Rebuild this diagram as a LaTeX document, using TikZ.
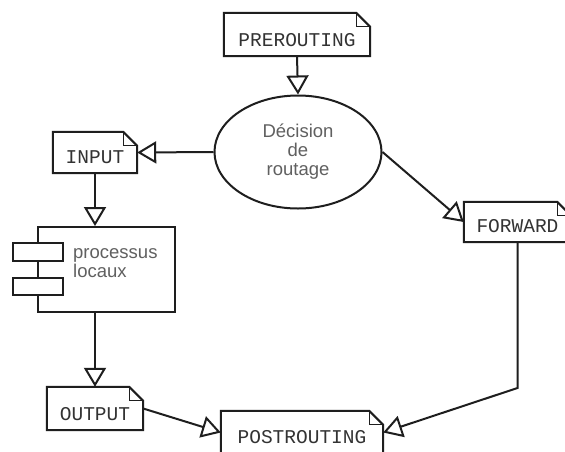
\documentclass[tikz,border=0pt]{standalone}
\usepackage{fontspec}
\setmainfont{Liberation Sans}
\newfontfamily\monofam{Liberation Mono}
\usetikzlibrary{arrows.meta,shapes.geometric,calc}
\definecolor{ink}{HTML}{1E1E1E}
\definecolor{txt}{HTML}{333333}
\definecolor{soft}{HTML}{606060}
\newcommand\nbfont{\monofam\fontsize{19.5}{20}\selectfont}
\newcommand\sbfont{\fontsize{18.5}{19}\selectfont}
\newcommand\dogear[1]{%
  \draw[line] (#1.south west) -- (#1.north west) -- ([xshift=-14pt]#1.north east)
     -- ([yshift=-14pt]#1.north east) -- (#1.south east) -- cycle;
  \draw[draw=ink,line width=1pt] ([xshift=-14pt]#1.north east) -- ([xshift=-14pt,yshift=-14pt]#1.north east)
     -- ([yshift=-14pt]#1.north east);}
\begin{document}
\begin{tikzpicture}[x=1pt,y=-1pt,
  line/.style={draw=ink,line width=2pt},
  arr/.style={line,-{Triangle[open,length=19pt,width=22pt]}},
  notebox/.style={rectangle,inner sep=0pt,font=\nbfont,text=txt,text depth=0pt,fill=white},
  tab/.style={line,fill=white,minimum width=50pt,inner sep=0pt}]
\clip (0,0) rectangle (565,451);
\useasboundingbox (0,0) rectangle (565,451);
\fill[white] (0,0) rectangle (565,451);

\node[notebox,minimum width=146pt,minimum height=43pt,text height=24pt] (pre) at (297,34.5) {PREROUTING};
\dogear{pre}
\node[ellipse,line,minimum width=167pt,minimum height=113pt,inner sep=0pt,align=center,font=\sbfont,text=soft] (dec) at (298,152) {Décision\\de\\routage};
\node[notebox,minimum width=84pt,minimum height=41pt,text height=21pt] (input) at (95,152.5) {INPUT};
\dogear{input}
\node[line,minimum width=137pt,minimum height=85pt,inner sep=0pt] (proc) at (106.5,269.5) {};
\node[tab,minimum height=18pt] (tab1) at (38,252) {};
\node[tab,minimum height=17pt] (tab2) at (38,286.5) {};
\node[anchor=base west,align=left,font=\sbfont,text=soft,inner sep=0pt] (ptext) at (73,277) {processus\\locaux};
\node[notebox,minimum width=107pt,minimum height=40pt,text height=20pt] (fwd) at (517.5,222) {FORWARD};
\dogear{fwd}
\node[notebox,minimum width=96pt,minimum height=43pt,text height=23pt] (out) at (95,408.5) {OUTPUT};
\dogear{out}
\node[notebox,minimum width=162pt,minimum height=43pt,text height=21pt] (post) at (302,432.5) {POSTROUTING};
\dogear{post}

\coordinate (bend) at (517.5,388);
\draw[arr] (pre.south) -- (dec.north);
\draw[arr] (dec.west) -- (input.east);
\draw[arr] (input.south) -- (input.south |- proc.north);
\draw[arr] (proc.south -| out.north) -- (out.north);
\draw[arr] (out.east) -- (post.west);
\draw[arr] (dec.east) -- (fwd.west);
\draw[arr] (fwd.south) -- (bend) -- (post.east);
\end{tikzpicture}
\end{document}
